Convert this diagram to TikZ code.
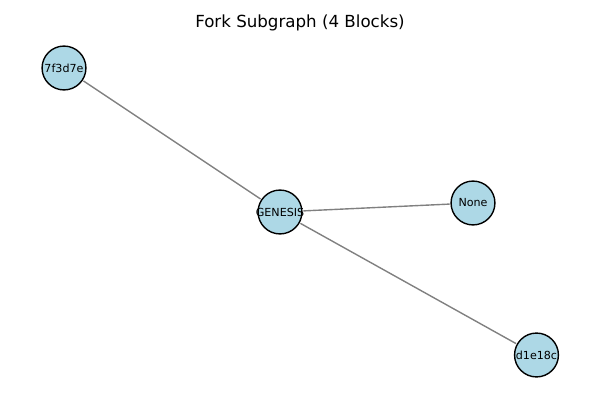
\documentclass[tikz,border=0pt]{standalone}
\usepackage{fontspec}
\setmainfont{DejaVu Sans}
\definecolor{lightblue}{HTML}{ADD8E6}
\begin{document}
\begin{tikzpicture}[x=0.72pt, y=-0.72pt,
    block/.style={circle, draw=black, line width=1pt, fill=lightblue, minimum size=31.6pt, inner sep=0pt,
        label={[font=\fontsize{8}{9}\selectfont, inner sep=0pt]center:#1}},
    link/.style={draw=gray, line width=1pt, shorten <=0.5pt, shorten >=0.5pt}]
    \useasboundingbox (0, 0) rectangle (600, 400);
    \node[font=\fontsize{12}{14}\selectfont] (title) at (300, 23) {Fork Subgraph (4 Blocks)};

    \node[block=GENESIS] (genesis) at (280, 212) {};
    \node[block=7f3d7e] (side) at (64, 68) {};
    \node[block=None] (none) at (473, 203) {};
    \node[block=d1e18c] (tip) at (536.5, 355) {};

    \draw[link] (genesis) -- (side);
    \draw[link] (genesis) -- (none);
    \draw[link] (genesis) -- (tip);
\end{tikzpicture}
\end{document}
